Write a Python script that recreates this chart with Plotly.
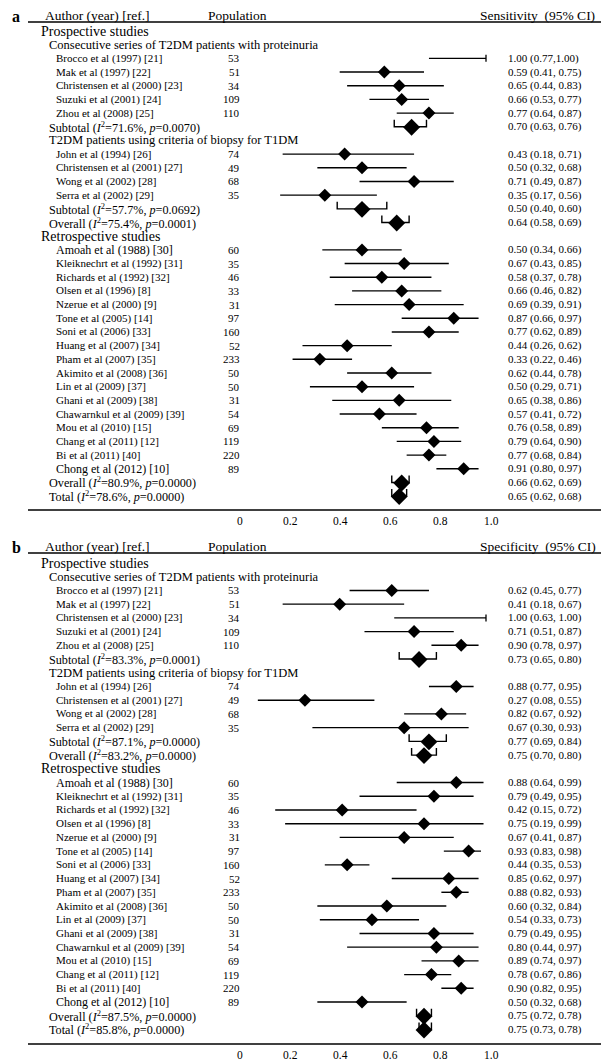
import plotly.graph_objects as go

W, H = 609, 1061
FONT = "Liberation Serif"

# ---------------- data ----------------
consec_names = ["Brocco et al (1997) [21]", "Mak et al (1997) [22]", "Christensen et al (2000) [23]",
                "Suzuki et al (2001) [24]", "Zhou et al (2008) [25]"]
consec_pop = [53, 51, 34, 109, 110]
biopsy_names = ["John et al (1994) [26]", "Christensen et al (2001) [27]",
                "Wong et al (2002) [28]", "Serra et al (2002) [29]"]
biopsy_pop = [74, 49, 68, 35]
retro_names = ["Amoah et al (1988) [30]", "Kleiknechrt et al (1992) [31]", "Richards et al (1992) [32]",
               "Olsen et al (1996) [8]", "Nzerue et al (2000) [9]", "Tone et al (2005) [14]",
               "Soni et al (2006) [33]", "Huang et al (2007) [34]", "Pham et al (2007) [35]",
               "Akimito et al (2008) [36]", "Lin et al (2009) [37]", "Ghani et al (2009) [38]",
               "Chawarnkul et al (2009) [39]", "Mou et al (2010) [15]", "Chang et al (2011) [12]",
               "Bi et al (2011) [40]", "Chong et al (2012) [10]"]
retro_pop = [60, 35, 46, 33, 31, 97, 160, 52, 233, 50, 50, 31, 54, 69, 119, 220, 89]

# Sensitivity (panel a)
sens_consec_est = [1.00, 0.59, 0.65, 0.66, 0.77]
sens_consec_lo = [0.77, 0.41, 0.44, 0.53, 0.64]
sens_consec_hi = [1.00, 0.75, 0.83, 0.77, 0.87]
sens_biopsy_est = [0.43, 0.50, 0.71, 0.35]
sens_biopsy_lo = [0.18, 0.32, 0.49, 0.17]
sens_biopsy_hi = [0.71, 0.68, 0.87, 0.56]
sens_retro_est = [0.50, 0.67, 0.58, 0.66, 0.69, 0.87, 0.77, 0.44, 0.33, 0.62, 0.50, 0.65, 0.57, 0.76, 0.79, 0.77, 0.91]
sens_retro_lo = [0.34, 0.43, 0.37, 0.46, 0.39, 0.66, 0.62, 0.26, 0.22, 0.44, 0.29, 0.38, 0.41, 0.58, 0.64, 0.68, 0.80]
sens_retro_hi = [0.66, 0.85, 0.78, 0.82, 0.91, 0.97, 0.89, 0.62, 0.46, 0.78, 0.71, 0.86, 0.72, 0.89, 0.90, 0.84, 0.97]
# summaries: consec subtotal, biopsy subtotal, prospective overall, retrospective overall, total
sens_sum_i2 = ["71.6", "57.7", "75.4", "80.9", "78.6"]
sens_sum_p = ["0.0070", "0.0692", "0.0001", "0.0000", "0.0000"]
sens_sum_est = [0.70, 0.50, 0.64, 0.66, 0.65]
sens_sum_lo = [0.63, 0.40, 0.58, 0.62, 0.62]
sens_sum_hi = [0.76, 0.60, 0.69, 0.69, 0.68]

# Specificity (panel b)
spec_consec_est = [0.62, 0.41, 1.00, 0.71, 0.90]
spec_consec_lo = [0.45, 0.18, 0.63, 0.51, 0.78]
spec_consec_hi = [0.77, 0.67, 1.00, 0.87, 0.97]
spec_biopsy_est = [0.88, 0.27, 0.82, 0.67]
spec_biopsy_lo = [0.77, 0.08, 0.67, 0.30]
spec_biopsy_hi = [0.95, 0.55, 0.92, 0.93]
spec_retro_est = [0.88, 0.79, 0.42, 0.75, 0.67, 0.93, 0.44, 0.85, 0.88, 0.60, 0.54, 0.79, 0.80, 0.89, 0.78, 0.90, 0.50]
spec_retro_lo = [0.64, 0.49, 0.15, 0.19, 0.41, 0.83, 0.35, 0.62, 0.82, 0.32, 0.33, 0.49, 0.44, 0.74, 0.67, 0.82, 0.32]
spec_retro_hi = [0.99, 0.95, 0.72, 0.99, 0.87, 0.98, 0.53, 0.97, 0.93, 0.84, 0.73, 0.95, 0.97, 0.97, 0.86, 0.95, 0.68]
spec_sum_i2 = ["83.3", "87.1", "83.2", "87.5", "85.8"]
spec_sum_p = ["0.0001", "0.0000", "0.0000", "0.0000", "0.0000"]
spec_sum_est = [0.73, 0.77, 0.75, 0.75, 0.75]
spec_sum_lo = [0.65, 0.69, 0.70, 0.72, 0.73]
spec_sum_hi = [0.80, 0.84, 0.80, 0.78, 0.78]

sum_labels = ["Subtotal", "Subtotal", "Overall", "Overall", "Total"]
section_labels = ["Prospective studies", "Retrospective studies"]
group_labels = ["Consecutive series of T2DM patients with proteinuria",
                "T2DM patients using criteria of biopsy for T1DM"]
header_labels = ["Author (year) [ref.]", "Population"]
tick_labels = ["0", "0.2", "0.4", "0.6", "0.8", "1.0"]
tick_values = [0.0, 0.2, 0.4, 0.6, 0.8, 1.0]

# ---------------- layout constants (pixels) ----------------
X0_PX, X_UNIT_PX = 230, 248          # value 0 and width of one unit
TICK0_PX, TICK_STEP_PX = 232, 251    # tick label placement
panels = [
    dict(letter="a", measure="Sensitivity\u00a0\u00a0(95% CI)", top=0, hdr=7, rule=14, first=23, step=13.68,
         bottom_rule=502, tick_y=513,
         consec=(sens_consec_est, sens_consec_lo, sens_consec_hi),
         biopsy=(sens_biopsy_est, sens_biopsy_lo, sens_biopsy_hi),
         retro=(sens_retro_est, sens_retro_lo, sens_retro_hi),
         sums=(sens_sum_i2, sens_sum_p, sens_sum_est, sens_sum_lo, sens_sum_hi)),
    dict(letter="b", measure="Specificity\u00a0\u00a0(95% CI)", top=530, hdr=8, rule=15, first=25, step=13.72,
         bottom_rule=1036, tick_y=1047,
         consec=(spec_consec_est, spec_consec_lo, spec_consec_hi),
         biopsy=(spec_biopsy_est, spec_biopsy_lo, spec_biopsy_hi),
         retro=(spec_retro_est, spec_retro_lo, spec_retro_hi),
         sums=(spec_sum_i2, spec_sum_p, spec_sum_est, spec_sum_lo, spec_sum_hi)),
]


def px(x):
    return x / W


annotations = []
shapes = []


def text(xp, y, s, size, anchor="left", bold=False):
    annotations.append(dict(
        x=px(xp), xref="paper", y=y, yref="y", text=("<b>%s</b>" % s) if bold else s,
        showarrow=False, xanchor=anchor, yanchor="middle",
        font=dict(family=FONT, size=size, color="#000")))


def ci_text(est, lo, hi, tight=False):
    sep = "," if tight else ", "
    return "%.2f (%.2f%s%.2f)" % (est, lo, sep, hi)


line_x, line_y = [], []
mk_x, mk_y = [], []
cap_x, cap_y = [], []
br_x, br_y = [], []
dm_x, dm_y = [], []

for P in panels:
    rows = []
    rows.append(("section", section_labels[0]))
    rows.append(("group", group_labels[0]))
    e, l, h = P["consec"]
    for i in range(len(consec_names)):
        rows.append(("study", consec_names[i], consec_pop[i], e[i], l[i], h[i]))
    rows.append(("sum", 0))
    rows.append(("group", group_labels[1]))
    e, l, h = P["biopsy"]
    for i in range(len(biopsy_names)):
        rows.append(("study", biopsy_names[i], biopsy_pop[i], e[i], l[i], h[i]))
    rows.append(("sum", 1))
    rows.append(("sum", 2))
    rows.append(("section", section_labels[1]))
    e, l, h = P["retro"]
    for i in range(len(retro_names)):
        rows.append(("study", retro_names[i], retro_pop[i], e[i], l[i], h[i]))
    rows.append(("sum", 3))
    rows.append(("sum", 4))

    top = P["top"]
    # header
    text(8, top + P["hdr"] + 1, P["letter"], 16, "center", bold=True)
    text(35, top + P["hdr"], header_labels[0], 13.5)
    text(198, top + P["hdr"], header_labels[1], 13.5)
    text(470, top + P["hdr"], P["measure"], 13.5)
    shapes.append(dict(type="line", xref="paper", yref="y", x0=px(20), x1=1,
                       y0=top + P["rule"], y1=top + P["rule"], line=dict(color="#000", width=1.3)))

    i2s, ps, se, sl, sh = P["sums"]
    for r, row in enumerate(rows):
        y = top + P["first"] + r * P["step"]
        kind = row[0]
        if kind == "section":
            text(31, y, row[1], 14)
        elif kind == "group":
            text(39, y, row[1], 12.5)
        elif kind == "study":
            _, name, pop, est, lo, hi = row
            big = name.startswith("Amoah") or name.startswith("Chong")
            text(46, y, name, 12 if big else 11)
            text(234, y, str(pop), 11, "right")
            tight = (P["letter"] == "a" and name.startswith("Brocco"))
            text(498, y, ci_text(est, lo, hi, tight), 11)
            line_x += [lo, hi, None]
            line_y += [y, y, None]
            if est < 1.0:
                mk_x.append(est)
                mk_y.append(y)
            if hi >= 1.0:
                cap_x.append(hi)
                cap_y.append(y)
        else:
            k = row[1]
            label = "%s (<i>I</i><sup>2</sup>=%s%%, <i>p</i>=%s)" % (sum_labels[k], i2s[k], ps[k])
            text(39, y, label, 12.2)
            text(498, y, ci_text(se[k], sl[k], sh[k]), 11)
            br_x += [sl[k], sl[k], sh[k], sh[k], None]
            br_y += [y - 7, y, y, y - 7, None]
            dm_x.append(se[k])
            dm_y.append(y + 0.5)

    # bottom rule and tick labels
    shapes.append(dict(type="line", xref="paper", yref="y", x0=px(20), x1=1,
                       y0=P["bottom_rule"], y1=P["bottom_rule"], line=dict(color="#000", width=1.5)))
    for tv, tl in zip(tick_values, tick_labels):
        text(TICK0_PX + tv * TICK_STEP_PX, P["tick_y"], tl, 11.5, "center")

fig = go.Figure()
fig.add_trace(go.Scatter(x=line_x, y=line_y, mode="lines", line=dict(color="#000", width=1.4),
                         hoverinfo="skip"))
fig.add_trace(go.Scatter(x=cap_x, y=cap_y, mode="markers",
                         marker=dict(symbol="line-ns", size=5, line=dict(color="#000", width=1.3)),
                         hoverinfo="skip"))
fig.add_trace(go.Scatter(x=mk_x, y=mk_y, mode="markers",
                         marker=dict(symbol="diamond", size=10, color="#000", line=dict(width=0))))
fig.add_trace(go.Scatter(x=br_x, y=br_y, mode="lines", line=dict(color="#000", width=1.4),
                         hoverinfo="skip"))
fig.add_trace(go.Scatter(x=dm_x, y=dm_y, mode="markers",
                         marker=dict(symbol="diamond", size=13, color="#000", line=dict(width=0))))

fig.update_layout(
    width=W, height=H, margin=dict(l=0, r=0, t=0, b=0),
    paper_bgcolor="white", plot_bgcolor="white", showlegend=False,
    xaxis=dict(range=[(0 - X0_PX) / X_UNIT_PX, (W - X0_PX) / X_UNIT_PX], visible=False, fixedrange=True),
    yaxis=dict(range=[H, 0], visible=False, fixedrange=True),
    annotations=annotations, shapes=shapes,
)
fig.write_html("out.html")
